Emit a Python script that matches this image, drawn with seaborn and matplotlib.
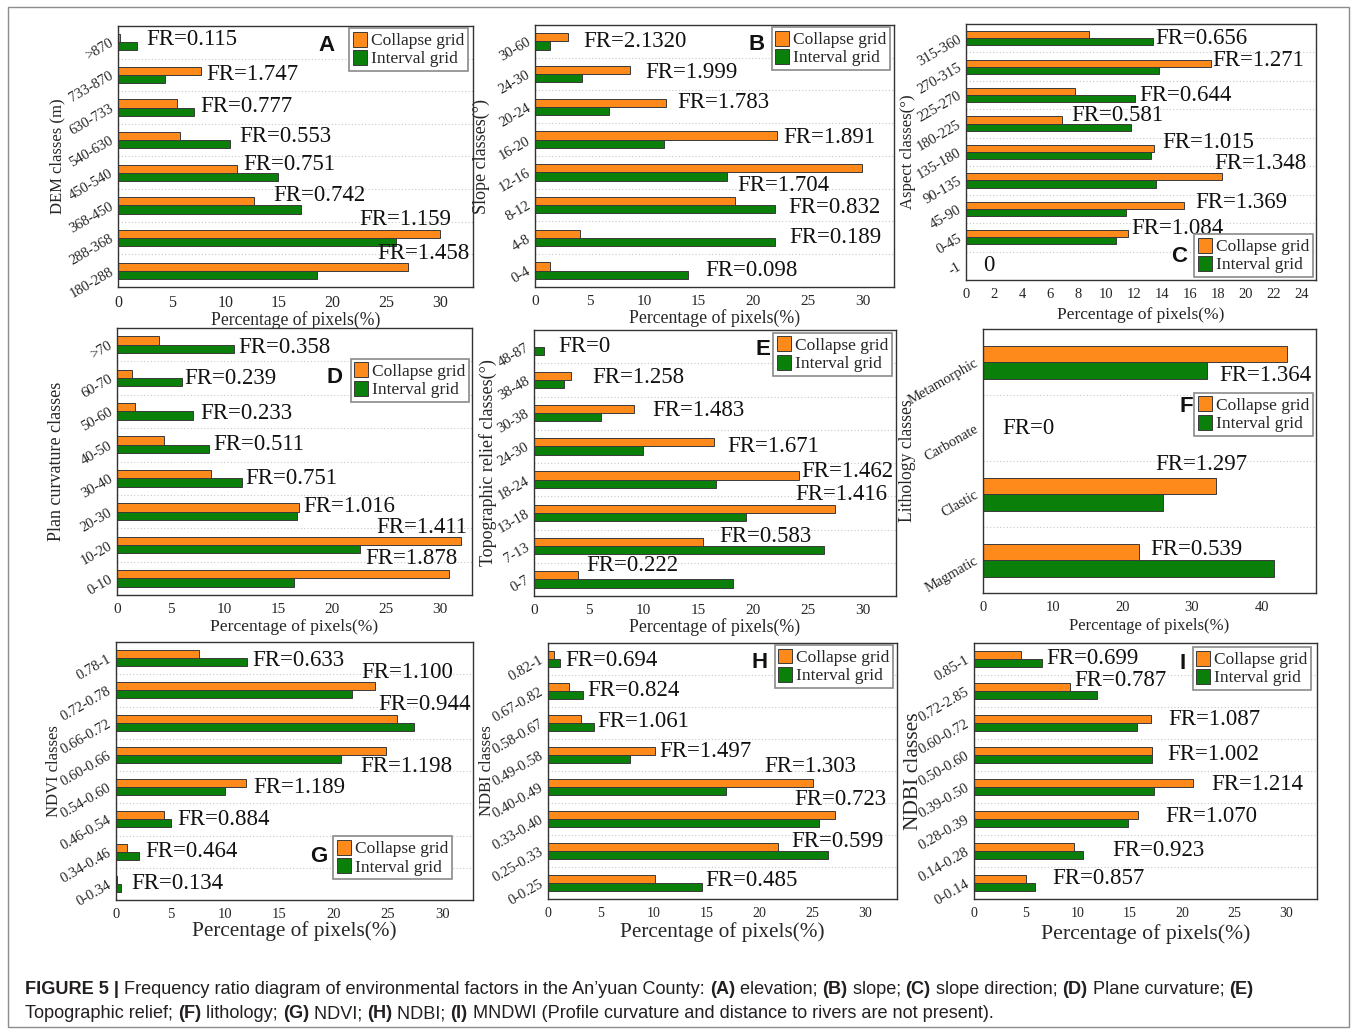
import numpy as np
import pandas as pd
import matplotlib
matplotlib.use("Agg")
import matplotlib.pyplot as plt
from matplotlib.ticker import MultipleLocator
from matplotlib.patches import Rectangle
import seaborn as sns

sns.set_theme(style="white")
plt.rcParams["font.family"] = ["Liberation Serif", "DejaVu Serif"]

W, H = 1356, 1033
ORANGE = "#FF8A1C"
GREEN = "#0A800A"
SERIES = ["Collapse grid", "Interval grid"]

# ---------------- data (classes listed top to bottom) ----------------
dem_classes = [">870", "733-870", "630-733", "540-630", "450-540", "368-450", "288-368", "180-288"]
dem_collapse = [0.2, 7.7, 5.5, 5.75, 11.1, 12.7, 30.0, 27.0]
dem_interval = [1.8, 4.4, 7.05, 10.4, 14.9, 17.1, 25.9, 18.6]
dem_labels = ["FR=0.115", "FR=1.747", "FR=0.777", "FR=0.553", "FR=0.751", "FR=0.742", "FR=1.159", "FR=1.458"]

slope_classes = ["30-60", "24-30", "20-24", "16-20", "12-16", "8-12", "4-8", "0-4"]
slope_collapse = [3.07, 8.7, 12.05, 22.2, 30.0, 18.3, 4.1, 1.35]
slope_interval = [1.4, 4.3, 6.8, 11.8, 17.6, 22.0, 22.0, 14.0]
slope_labels = ["FR=2.1320", "FR=1.999", "FR=1.783", "FR=1.891", "FR=1.704", "FR=0.832", "FR=0.189", "FR=0.098"]

aspect_classes = ["315-360", "270-315", "225-270", "180-225", "135-180", "90-135", "45-90", "0-45", "-1"]
aspect_collapse = [8.75, 17.5, 7.77, 6.84, 13.4, 18.3, 15.6, 11.6, 0.0]
aspect_interval = [13.35, 13.8, 12.1, 11.75, 13.2, 13.6, 11.4, 10.7, 0.0]
aspect_labels = ["FR=0.656", "FR=1.271", "FR=0.644", "FR=0.581", "FR=1.015", "FR=1.348", "FR=1.369", "FR=1.084", "0"]

curv_classes = [">70", "60-70", "50-60", "40-50", "30-40", "20-30", "10-20", "0-10"]
curv_collapse = [3.87, 1.4, 1.64, 4.36, 8.7, 16.95, 31.95, 30.9]
curv_interval = [10.86, 6.0, 7.05, 8.57, 11.6, 16.7, 22.6, 16.45]
curv_labels = ["FR=0.358", "FR=0.239", "FR=0.233", "FR=0.511", "FR=0.751", "FR=1.016", "FR=1.411", "FR=1.878"]

relief_classes = ["48-87", "38-48", "30-38", "24-30", "18-24", "13-18", "7-13", "0-7"]
relief_collapse = [0.0, 3.4, 9.1, 16.4, 24.2, 27.4, 15.4, 4.04]
relief_interval = [0.9, 2.7, 6.1, 9.9, 16.6, 19.3, 26.4, 18.1]
relief_labels = ["FR=0", "FR=1.258", "FR=1.483", "FR=1.671", "FR=1.462", "FR=1.416", "FR=0.583", "FR=0.222"]

litho_classes = ["Metamorphic", "Carbonate", "Clastic", "Magmatic"]
litho_collapse = [43.7, 0.0, 33.4, 22.4]
litho_interval = [32.1, 0.0, 25.8, 41.8]
litho_labels = ["FR=1.364", "FR=0", "FR=1.297", "FR=0.539"]

ndvi_classes = ["0.78-1", "0.72-0.78", "0.66-0.72", "0.60-0.66", "0.54-0.60", "0.46-0.54", "0.34-0.46", "0-0.34"]
ndvi_collapse = [7.58, 23.8, 25.85, 24.8, 11.9, 4.45, 0.98, 0.06]
ndvi_interval = [12.04, 21.65, 27.4, 20.7, 9.98, 5.04, 2.15, 0.46]
ndvi_labels = ["FR=0.633", "FR=1.100", "FR=0.944", "FR=1.198", "FR=1.189", "FR=0.884", "FR=0.464", "FR=0.134"]

ndbi_classes = ["0.82-1", "0.67-0.82", "0.58-0.67", "0.49-0.58", "0.40-0.49", "0.33-0.40", "0.25-0.33", "0-0.25"]
ndbi_collapse = [0.54, 2.0, 3.15, 10.1, 25.1, 27.1, 21.75, 10.1]
ndbi_interval = [1.1, 3.3, 4.38, 7.78, 16.8, 25.6, 26.5, 14.56]
ndbi_labels = ["FR=0.694", "FR=0.824", "FR=1.061", "FR=1.497", "FR=1.303", "FR=0.723", "FR=0.599", "FR=0.485"]

mndwi_classes = ["0.85-1", "0.72-2.85", "0.60-0.72", "0.50-0.60", "0.39-0.50", "0.28-0.39", "0.14-0.28", "0-0.14"]
mndwi_collapse = [4.5, 9.27, 17.04, 17.16, 21.05, 15.8, 9.66, 5.0]
mndwi_interval = [6.5, 11.87, 15.7, 17.13, 17.36, 14.8, 10.46, 5.87]
mndwi_labels = ["FR=0.699", "FR=0.787", "FR=1.087", "FR=1.002", "FR=1.214", "FR=1.070", "FR=0.923", "FR=0.857"]

# ---------------- layout ----------------
# rect: axes box in pixels (left, top, right, bottom)
# dx/dy: label offset from the end of the longer bar (dy upward, in category units)
panels = [
    dict(letter="A", classes=dem_classes, c=dem_collapse, i=dem_interval, labels=dem_labels,
         ylabel="DEM classes (m)", rect=(118, 26, 473, 287), xmax=33.1, major=5, minor=1,
         dx=[0.8, 0.5, 0.65, 0.9, -3.2, -2.6, -7.5, -2.8], dy=[0.08, 0, 0.03, 0.1, 0.25, 0.3, 0.58, 0.53],
         letter_xy=(0.586, 0.927), leg_loc="upper right", leg_xy=(0.986, 0.992),
         xt=11.5, xl=12.7, yl=12, ylx=-0.149, pad=0),
    dict(letter="B", classes=slope_classes, c=slope_collapse, i=slope_interval, labels=slope_labels,
         ylabel="Slope classes(°)", rect=(535, 25, 894, 287), xmax=32.9, major=5, minor=1,
         dx=[1.4, 1.4, 0.95, 0.6, -11.5, 1.25, 1.3, 1.6], dy=[0, 0.06, 0.13, 0.05, -0.41, -0.06, 0, 0],
         letter_xy=(0.618, 0.924), leg_loc="upper right", leg_xy=(0.989, 0.992),
         xt=11, xl=12.8, yl=13, ylx=-0.125, pad=0.5),
    dict(letter="C", classes=aspect_classes, c=aspect_collapse, i=aspect_interval, labels=aspect_labels,
         ylabel="Aspect classes(°)", rect=(966, 24, 1316, 280), xmax=25, major=2, minor=1,
         dx=[0.15, 0.1, 0.3, -4.2, 0.6, -0.55, 0.8, 0.2, 1.2], dy=[0, 0.2, 0, 0.3, 0.33, 0.6, 0.23, 0.3, 0],
         letter_xy=(0.609, 0.09), leg_loc="lower right", leg_xy=(0.991, 0.012),
         xt=10.5, xl=12.5, yl=12, ylx=-0.143, pad=4),
    dict(letter="D", classes=curv_classes, c=curv_collapse, i=curv_interval, labels=curv_labels,
         ylabel="Plan curvature classes", rect=(117, 328, 472, 595), xmax=33, major=5, minor=1,
         dx=[0.45, 0.3, 0.7, 0.35, 0.3, 0.35, -7.85, -7.8], dy=[-0.08, 0, -0.07, 0, 0, 0.14, 0.53, 0.58],
         letter_xy=(0.614, 0.816), leg_loc="upper right", leg_xy=(0.992, 0.884),
         xt=11, xl=12.6, yl=13, ylx=-0.146, pad=2),
    dict(letter="E", classes=relief_classes, c=relief_collapse, i=relief_interval, labels=relief_labels,
         ylabel="Topographic relief classes(°)", rect=(534, 330, 896, 596), xmax=33, major=5, minor=1,
         dx=[1.3, 1.9, 1.7, 1.2, 0.2, -3.6, -9.5, -13.3], dy=[0, 0.07, 0.07, 0, 0.24, 0.54, 0.29, 0.41],
         letter_xy=(0.633, 0.925), leg_loc="upper right", leg_xy=(0.989, 0.989),
         xt=11, xl=12.8, yl=13, ylx=-0.102, pad=0.5),
    dict(letter="F", classes=litho_classes, c=litho_collapse, i=litho_interval, labels=litho_labels,
         ylabel="Lithology classes", rect=(983, 329, 1316, 593), xmax=47.8, major=10, minor=2,
         dx=[-9.8, 2.8, -8.6, -17.8], dy=[-0.2, 0, 0.44, 0.16],
         letter_xy=(0.61, 0.705), leg_loc="upper right", leg_xy=(0.991, 0.758),
         xt=10.5, xl=12, yl=12.7, ylx=-0.2, pad=3),
    dict(letter="G", classes=ndvi_classes, c=ndvi_collapse, i=ndvi_interval, labels=ndvi_labels,
         ylabel="NDVI classes", rect=(116, 642, 473, 900), xmax=32.8, major=5, minor=1,
         dx=[0.45, -1.3, -3.3, -2.4, 0.75, 0.6, 0.5, 0.9], dy=[-0.07, 0.54, 0.56, -0.35, 0, 0, 0, 0],
         letter_xy=(0.569, 0.167), leg_loc="lower right", leg_xy=(0.941, 0.081),
         xt=10.5, xl=15.3, yl=12, ylx=-0.151, pad=0),
    dict(letter="H", classes=ndbi_classes, c=ndbi_collapse, i=ndbi_interval, labels=ndbi_labels,
         ylabel="NDBI classes", rect=(548, 643, 897, 899), xmax=33, major=5, minor=1,
         dx=[0.5, 0.4, 0.3, 0.45, -4.65, -3.8, -3.5, 0.35], dy=[-0.05, 0, 0.05, 0.1, 0.63, 0.6, 0.3, 0.08],
         letter_xy=(0.607, 0.922), leg_loc="upper right", leg_xy=(0.989, 0.992),
         xt=10, xl=15.3, yl=12, ylx=-0.152, pad=1),
    dict(letter="I", classes=mndwi_classes, c=mndwi_collapse, i=mndwi_interval, labels=mndwi_labels,
         ylabel="NDBI classes", rect=(974, 643, 1317, 899), xmax=33, major=5, minor=1,
         dx=[0.43, -2.2, 1.65, 1.45, 1.75, 2.6, 2.85, 1.65], dy=[0, 0.33, 0.1, 0, 0.07, 0.08, 0, 0.13],
         letter_xy=(0.609, 0.918), leg_loc="upper right", leg_xy=(0.983, 0.984),
         xt=10, xl=15.7, yl=15.5, ylx=-0.149, pad=3),
]

fig = plt.figure(figsize=(W / 100, H / 100), dpi=100)
fig.patch.set_facecolor("white")


def draw_panel(p):
    x0, y0, x1, y1 = p["rect"]
    ax = fig.add_axes([x0 / W, 1 - y1 / H, (x1 - x0) / W, (y1 - y0) / H])
    classes = p["classes"]
    n = len(classes)
    df = pd.DataFrame({
        "cls": classes * 2,
        "grid": [SERIES[0]] * n + [SERIES[1]] * n,
        "pct": list(p["c"]) + list(p["i"]),
    })
    sns.barplot(data=df, x="pct", y="cls", hue="grid", order=classes, hue_order=SERIES,
                palette=[ORANGE, GREEN], orient="h", width=0.5, dodge=True, errorbar=None,
                saturation=1, edgecolor="#3a3a3a", linewidth=0.7, ax=ax)

    ax.set_xlim(0, p["xmax"])
    ax.set_ylim(n - 0.5, -0.5)
    ax.xaxis.set_major_locator(MultipleLocator(p["major"]))
    ax.xaxis.set_minor_locator(MultipleLocator(p["minor"]))
    ax.set_yticks(np.arange(n), labels=classes)
    for t in ax.get_yticklabels():
        t.set_rotation(30)
        t.set_rotation_mode("anchor")
        t.set_ha("right")
        t.set_va("center")
        t.set_fontsize(10.5)
    ax.set_yticks(np.arange(1, n) - 0.5, minor=True)
    ax.tick_params(axis="y", which="major", length=0, pad=4)
    ax.tick_params(axis="y", which="minor", length=4, width=1, color="#333333", direction="out")
    ax.tick_params(axis="x", which="major", length=4, width=1, color="#333333", direction="out",
                   labelsize=p["xt"], pad=2)
    ax.tick_params(axis="x", which="minor", length=2, width=0.8, color="#333333", direction="out")
    ax.grid(axis="y", which="minor", linestyle=(0, (1, 2)), color="#c8c8c8", linewidth=0.8)
    ax.set_axisbelow(True)
    for s in ax.spines.values():
        s.set_color("#333333")
        s.set_linewidth(1.0)

    ax.set_xlabel("Percentage of pixels(%)", fontsize=p["xl"], labelpad=p["pad"])
    ax.set_ylabel(p["ylabel"], fontsize=p["yl"])
    ax.yaxis.set_label_coords(p["ylx"], 0.5)

    longer = np.maximum(p["c"], p["i"])
    for k, lab in enumerate(p["labels"]):
        ax.text(longer[k] + p["dx"][k], k - p["dy"][k], lab, fontsize=16.5,
                ha="left", va="center", color="#111111")

    handles, labels = ax.get_legend_handles_labels()
    ax.legend(handles, labels, loc=p["leg_loc"], bbox_to_anchor=p["leg_xy"], borderaxespad=0,
              frameon=True, fancybox=False, framealpha=1, edgecolor="#8a8a8a",
              fontsize=12.5, handlelength=0.8, handleheight=0.95, handletextpad=0.25,
              labelspacing=0.05, borderpad=0.2)
    ax.get_legend().get_frame().set_linewidth(1.2)

    ax.text(p["letter_xy"][0], p["letter_xy"][1], p["letter"], transform=ax.transAxes,
            ha="center", va="center", fontsize=16, fontweight="bold",
            family=["Liberation Sans", "DejaVu Sans"], color="#111111")


for p in panels:
    draw_panel(p)

# figure frame
fig.add_artist(Rectangle((8 / W, 1 - 1027 / H), (1349 - 8) / W, (1027 - 7) / H,
                         transform=fig.transFigure, fill=False, edgecolor="#8c8c8c", linewidth=1.0))

# caption with bold panel references
caption_lines = [
    [("FIGURE 5 |", True), (" Frequency ratio diagram of environmental factors in the An\u2019yuan County: ", False),
     ("(A)", True), (" elevation; ", False), ("(B)", True), (" slope; ", False), ("(C)", True),
     (" slope direction; ", False), ("(D)", True), (" Plane curvature; ", False), ("(E)", True)],
    [("Topographic relief; ", False), ("(F)", True), (" lithology; ", False), ("(G)", True),
     (" NDVI; ", False), ("(H)", True), (" NDBI; ", False), ("(I)", True),
     (" MNDWI (Profile curvature and distance to rivers are not present).", False)],
]
renderer = fig.canvas.get_renderer()
for line, ypx in zip(caption_lines, [989, 1014]):
    xpx = 25
    for text, bold in line:
        t = fig.text(xpx / W, 1 - ypx / H, text, fontsize=13.1,
                     fontweight="bold" if bold else "normal",
                     family=["Liberation Sans", "DejaVu Sans"], ha="left", va="center",
                     color="#231f20")
        xpx += t.get_window_extent(renderer).width

fig.savefig("out.png", dpi=100, facecolor="white")
